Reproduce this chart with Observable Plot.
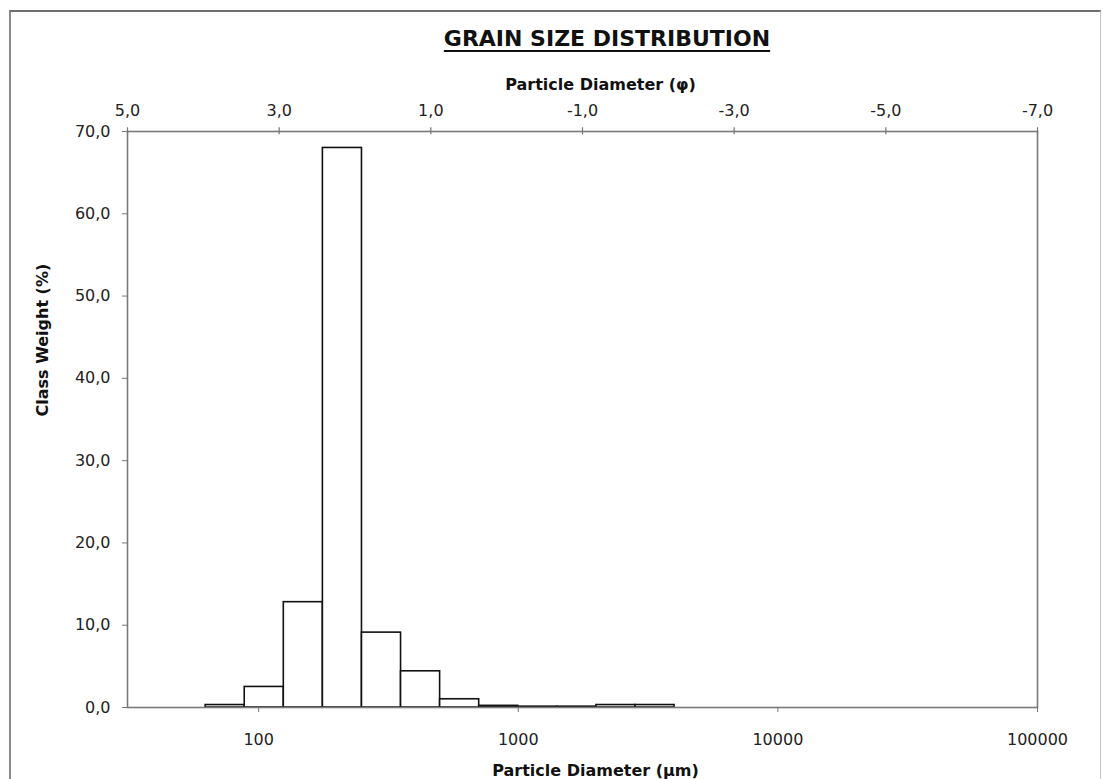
<!DOCTYPE html>
<html>
<head>
<meta charset="utf-8">
<script src="https://cdn.jsdelivr.net/npm/d3@7"></script>
<script src="https://cdn.jsdelivr.net/npm/@observablehq/plot@0.6"></script>
<style>
  body { margin: 0; background: #fff; }
  #wrap { position: relative; width: 1103px; height: 779px; overflow: hidden; background: #fff; }
  #chart { position: absolute; left: 0; top: 0; }
  #border { position: absolute; left: 9px; top: 10px; width: 1089px; height: 820px;
            border-top: 2px solid #6f6f6f; border-left: 2px solid #8a8a8a; border-right: 1px solid #c4c4c4;
            pointer-events: none; }
  #title { position: absolute; left: 607px; top: 28px; transform: translateX(-50%);
           font: bold 22px/22px "DejaVu Sans", sans-serif; color: #111; white-space: nowrap;
           text-decoration: underline; text-decoration-thickness: 2px; text-underline-offset: 4px; }
</style>
</head>
<body>
<div id="wrap">
  <div id="chart"></div>
  <div id="title">GRAIN SIZE DISTRIBUTION</div>
  <div id="border"></div>
</div>
<script>
// ---- data ----
const phiClassFine = [4, 3.5, 3, 2.5, 2, 1.5, 1, 0.5, 0, -0.5, -1, -1.5]; // fine edge of each 0.5-phi class
const classWeight  = [0.3, 2.5, 12.8, 68.0, 9.1, 4.4, 1.0, 0.2, 0.1, 0.1, 0.3, 0.3]; // %
const phiTicks = [5, 3, 1, -1, -3, -5, -7];
const umTicks = [100, 1000, 10000, 100000];
const weightTicks = [0, 10, 20, 30, 40, 50, 60, 70];
const titleText = "GRAIN SIZE DISTRIBUTION";
const topLabel = "Particle Diameter (φ)";
const bottomLabel = "Particle Diameter (µm)";
const yLabel = "Class Weight (%)";

// ---- derived ----
const xMin = 31.25, xMax = 100000;
const lmin = Math.log10(xMin), lmax = Math.log10(xMax);
const phiMin = 5, phiMax = -7;
// secondary (phi) axis: linear over the same plotting width
const phiToX = p => 10 ** (lmin + (phiMin - p) / (phiMin - phiMax) * (lmax - lmin));
const comma = v => v.toFixed(1).replace(".", ",");

const bins = phiClassFine.map((p, i) => ({
  x1: 1000 * 2 ** -p,
  x2: 1000 * 2 ** -(p - 0.5),
  w: classWeight[i]
}));

const font = "DejaVu Sans, sans-serif";
const tickColor = "#222";

const plot = Plot.plot({
  width: 1103,
  height: 779,
  marginLeft: 127,
  marginRight: 66,
  marginTop: 131,
  marginBottom: 72,
  style: { fontFamily: font, fontSize: "16px", color: tickColor, background: "transparent" },
  x: { type: "log", domain: [xMin, xMax] },
  y: { domain: [0, 70] },
  marks: [
    Plot.rectY(bins, { x1: "x1", x2: "x2", y: "w", fill: "white", stroke: "#111", strokeWidth: 1.6, inset: 0 }),
    Plot.frame({ stroke: "#7a7a7a", strokeWidth: 1.6 }),
    Plot.axisY({ ticks: weightTicks, tickFormat: comma, tickSize: 5, tickPadding: 12, label: null, stroke: "#777", fontSize: 16, fill: tickColor }),
    Plot.axisX({ anchor: "bottom", ticks: umTicks, tickFormat: d => String(d), tickSize: 5, tickPadding: 21, label: null, stroke: "#777", fontSize: 16, fill: tickColor }),
    // phi (secondary) axis: tick marks crossing the top edge, plus labels
    Plot.ruleX(phiTicks, { x: phiToX, y1: 69.6, y2: 70.45, stroke: "#777", strokeWidth: 1.2, clip: false }),
    Plot.text(phiTicks, { x: phiToX, frameAnchor: "top", dy: -16, lineAnchor: "bottom", text: comma, fontSize: 16, fill: tickColor }),
    Plot.text([topLabel], { frameAnchor: "top", dx: 18, dy: -42, lineAnchor: "bottom", fontWeight: "bold", fontSize: 16, fill: "#111", text: d => d }),
    Plot.text([bottomLabel], { frameAnchor: "bottom", dx: 13, dy: 68, lineAnchor: "bottom", fontWeight: "bold", fontSize: 16, fill: "#111", text: d => d }),
    Plot.text([yLabel], { frameAnchor: "left", dx: -85, dy: -3, rotate: -90, fontWeight: "bold", fontSize: 16, fill: "#111", text: d => d })
  ]
});
document.getElementById("chart").appendChild(plot);
</script>
</body>
</html>
